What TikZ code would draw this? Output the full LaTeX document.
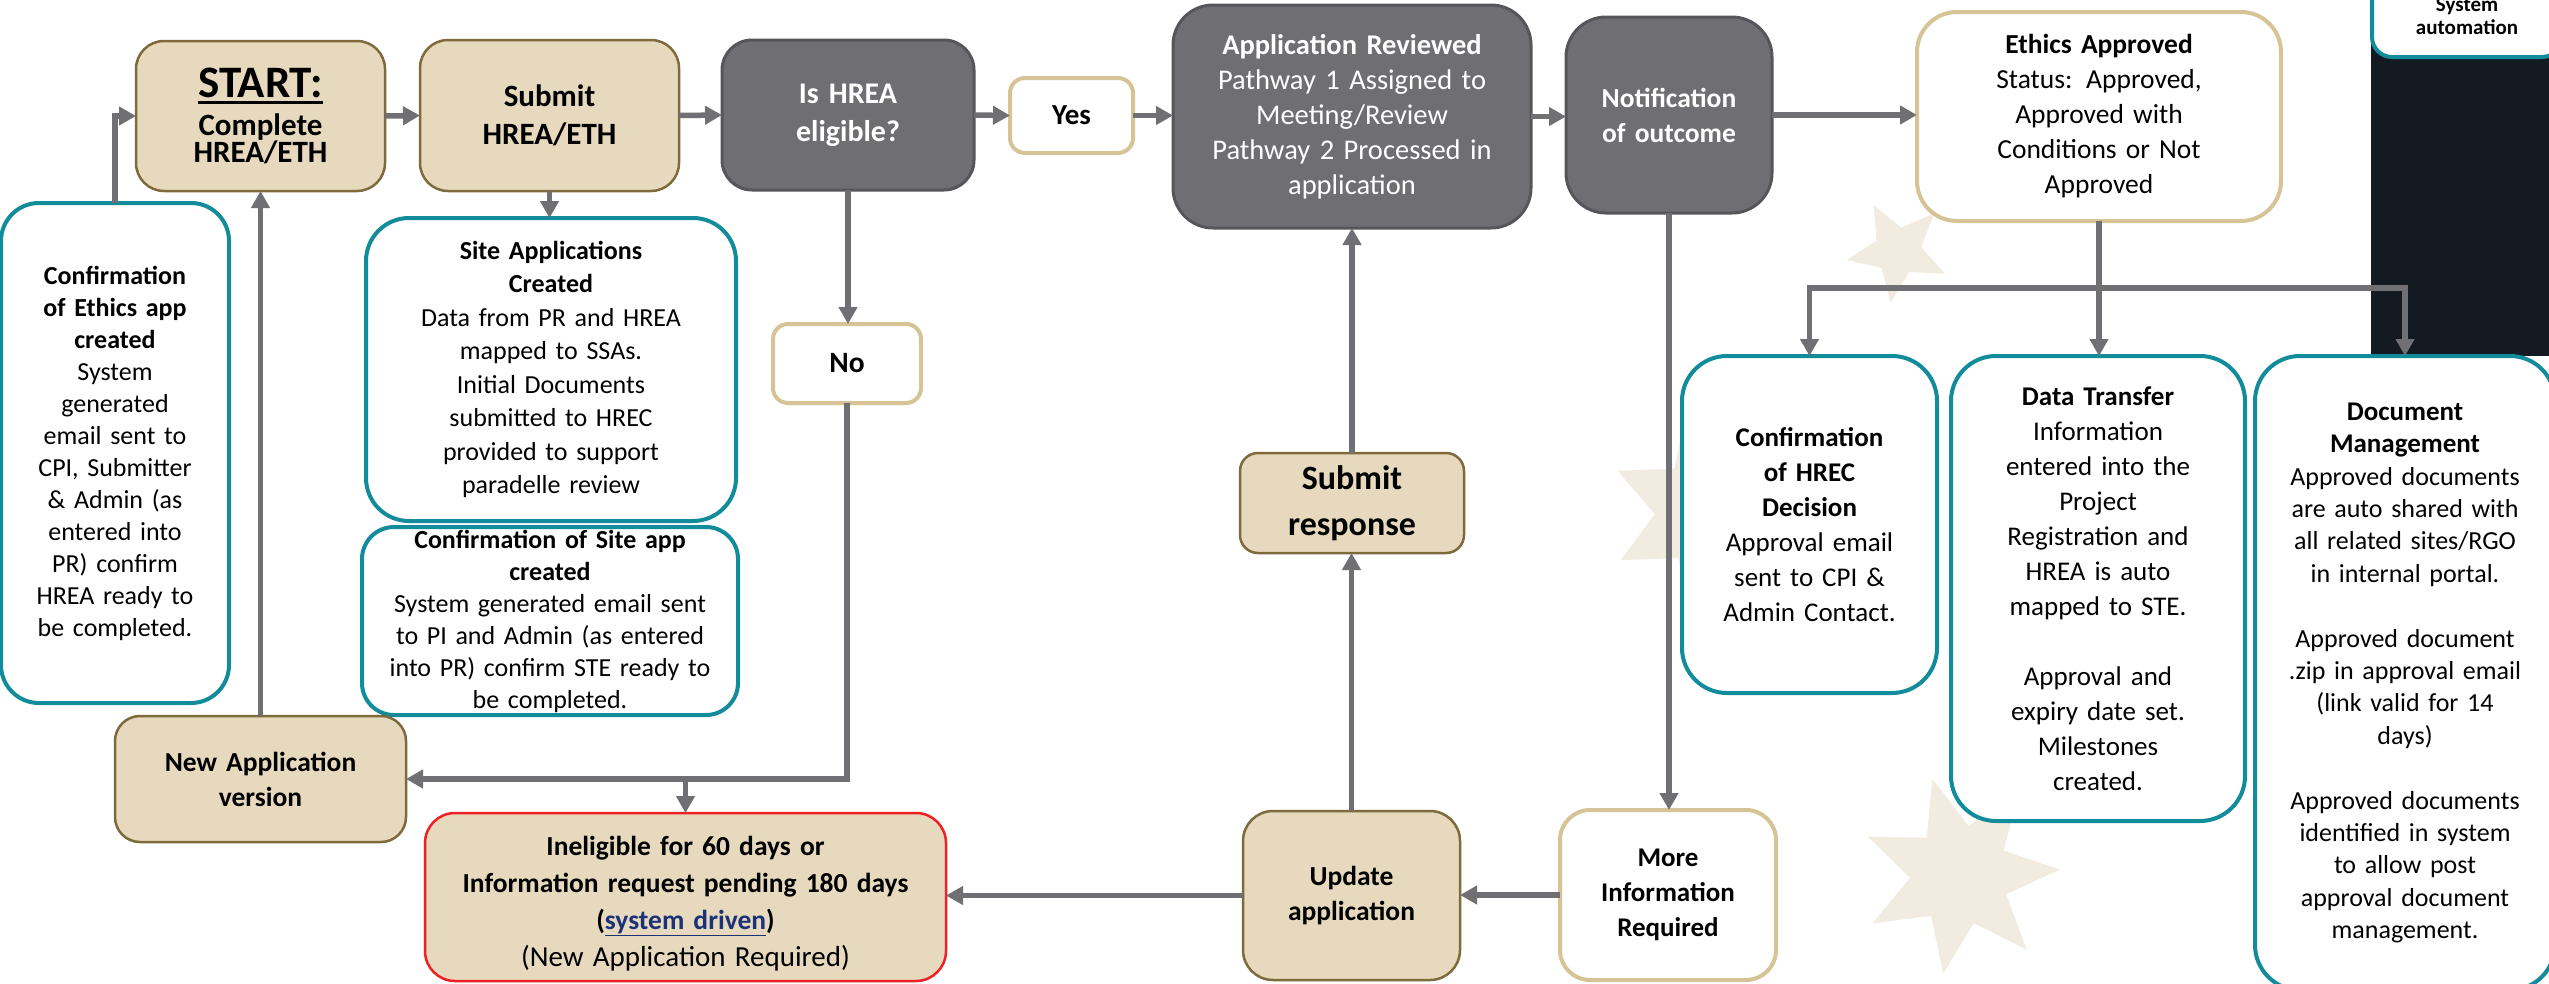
\documentclass[tikz,border=0pt]{standalone}
\usepackage{fontspec}
\setmainfont{Carlito}
\usetikzlibrary{arrows.meta,shapes.geometric}
\definecolor{beige}{RGB}{230,217,189}
\definecolor{brownb}{RGB}{127,106,60}
\definecolor{darkg}{RGB}{111,110,115}
\definecolor{darkgb}{RGB}{85,85,90}
\definecolor{tealb}{RGB}{18,140,155}
\definecolor{tanb}{RGB}{214,196,150}
\definecolor{arrowg}{RGB}{112,111,116}
\definecolor{starc}{RGB}{242,235,223}
\definecolor{panelc}{RGB}{19,26,33}
\definecolor{redb}{RGB}{238,32,36}
\definecolor{linkb}{RGB}{28,50,120}
\newcommand{\myfs}[2]{\fontsize{#1pt}{#2pt}\selectfont}
\newcommand{\thickul}[1]{\setbox0\hbox{#1}\leavevmode\vtop{\copy0\kern3pt\hrule height 3.5pt width \wd0}}
\hyphenpenalty=10000
\exhyphenpenalty=10000
\begin{document}
\begin{tikzpicture}[x=1pt,y=-1pt,
  boxbase/.style={align=center, inner sep=0pt, outer sep=0pt},
  beigebox/.style={boxbase, draw=brownb, line width=2.5pt, fill=beige, rounded corners=#1},
  beigebox/.default=28pt,
  darkbox/.style={boxbase, draw=darkgb, line width=3pt, fill=darkg, text=white, rounded corners=#1},
  darkbox/.default=35pt,
  tanbox/.style={boxbase, draw=tanb, line width=4pt, fill=white, rounded corners=#1},
  tanbox/.default=35pt,
  tealbox/.style={boxbase, draw=tealb, line width=4pt, fill=white, rounded corners=#1},
  tealbox/.default=42pt,
  redbox/.style={boxbase, draw=redb, line width=2.5pt, fill=beige, rounded corners=#1},
  redbox/.default=30pt,
  bgstar/.style={star, fill=starc, draw=none, inner sep=0pt},
  arr/.style={draw=arrowg, line width=5.5pt, -{Triangle[length=17pt,width=18pt]}},
  plain/.style={draw=arrowg, line width=5.5pt}
]
\useasboundingbox (0,0) rectangle (2549,983);
\clip (0,0) rectangle (2549,983);
\fill[white] (0,0) rectangle (2549,983);

% background stars
\node[bgstar, star points=7, star point ratio=2, minimum size=200pt, shape border rotate=16] (starA) at (1960,875) {};
\node[bgstar, star points=5, star point ratio=2.2, minimum size=104pt, shape border rotate=28] (starB) at (1898,251) {};
\node[bgstar, star points=7, star point ratio=1.8, minimum size=206pt, shape border rotate=15] (starC) at (1712,512) {};

% dark panel on the right
\fill[panelc] (2371,0) rectangle (2549,356);

% top row
\node[beigebox, minimum width=249pt, minimum height=150pt, text width=245pt] (start) at (260.5,116)
  {{\myfs{45}{52}\bfseries\thickul{START:}\par}\myfs{31}{38}\bfseries Complete\\HREA/ETH};
\node[beigebox, minimum width=259pt, minimum height=151pt, text width=255pt, font={\myfs{31}{38}\bfseries}] (submit) at (549.5,115.5)
  {Submit\\HREA/ETH};
\node[darkbox=30pt, minimum width=252pt, minimum height=150pt, text width=248pt, font={\myfs{30}{38}\bfseries}] (isHrea) at (848,115)
  {Is HREA\\eligible?};
\node[tanbox=15pt, minimum width=123pt, minimum height=75pt, text width=119pt, font={\myfs{29}{35}\bfseries}] (yes) at (1071.5,115.5)
  {Yes};
\node[darkbox=40pt, minimum width=358pt, minimum height=223pt, text width=354pt, font={\myfs{28.5}{35}}] (review) at (1352,116.5)
  {{\bfseries Application Reviewed}\\Pathway 1 Assigned to\\Meeting/Review\\Pathway 2 Processed in\\application};
\node[darkbox=40pt, minimum width=206pt, minimum height=196pt, text width=202pt, font={\myfs{27.5}{35}\bfseries}] (notif) at (1669,115)
  {Notification\\of outcome};
\node[tanbox=40pt, minimum width=364pt, minimum height=209pt, text width=360pt, font={\myfs{27.5}{35}}] (ethics) at (2099,116.5)
  {{\bfseries Ethics Approved}\\Status: Approved,\\Approved with\\Conditions or Not\\Approved};

% system automation legend
\node[tealbox=20pt, minimum width=190pt, minimum height=82pt, text width=186pt, font={\myfs{21}{23}\bfseries}] (sys) at (2467,16)
  {System\\automation};

% left column
\node[tealbox=38pt, minimum width=228pt, minimum height=500pt, text width=224pt, font={\myfs{26}{32}}] (confEth) at (115,453)
  {{\bfseries Confirmation\\of Ethics app\\created}\\System\\generated\\email sent to\\CPI, Submitter\\\& Admin (as\\entered into\\PR) confirm\\HREA ready to\\be completed.};
\node[tealbox=43pt, minimum width=370pt, minimum height=303pt, text width=366pt, font={\myfs{26}{33.5}}] (siteApps) at (551,369.5)
  {{\bfseries Site Applications\\Created}\\Data from PR and HREA\\mapped to SSAs.\\Initial Documents\\submitted to HREC\\provided to support\\paradelle review};
\node[tealbox=32pt, minimum width=376pt, minimum height=188pt, text width=372pt, font={\myfs{26}{32}}] (confSite) at (550,621)
  {{\bfseries Confirmation of Site app\\created}\\System generated email sent\\to PI and Admin (as entered\\into PR) confirm STE ready to\\be completed.};
\node[tanbox=15pt, minimum width=148pt, minimum height=79pt, text width=144pt, font={\myfs{29.5}{35}\bfseries}] (no) at (847,363.5)
  {No};
\node[beigebox=25pt, minimum width=291pt, minimum height=126pt, text width=287pt, font={\myfs{27.5}{35}\bfseries}] (newApp) at (260.5,779)
  {New Application\\version};
\node[redbox=30pt, minimum width=521pt, minimum height=168pt, text width=517pt, font={\myfs{27.5}{37}}] (inelig) at (685.5,897)
  {{\bfseries\rule{0pt}{32pt}Ineligible for 60 days or\\Information request pending 180 days\\({\color{linkb}\underline{system driven}})}\\{\myfs{29}{37}(New Application Required)}};

% middle
\node[beigebox=18pt, minimum width=224pt, minimum height=100pt, text width=220pt, font={\myfs{34}{46}\bfseries}] (submitResp) at (1352,503)
  {Submit\\response};
\node[beigebox=30pt, minimum width=217pt, minimum height=169pt, text width=213pt, font={\myfs{27.5}{35}\bfseries}] (update) at (1351.5,895.5)
  {Update\\application};
\node[tanbox=30pt, minimum width=216pt, minimum height=170pt, text width=212pt, font={\myfs{27}{35}\bfseries}] (moreInfo) at (1668,895)
  {More\\Information\\Required};

% approval outputs
\node[tealbox=45pt, minimum width=255pt, minimum height=337pt, text width=251pt, font={\myfs{27}{35}}] (hrec) at (1809.5,524.5)
  {{\bfseries Confirmation\\of HREC\\Decision}\\Approval email\\sent to CPI \&\\Admin Contact.};
\node[tealbox=45pt, minimum width=294pt, minimum height=465pt, text width=290pt, font={\myfs{27}{35}}] (data) at (2098,588.5)
  {{\bfseries Data Transfer}\\Information\\entered into the\\Project\\Registration and\\HREA is auto\\mapped to STE.\\[35pt]Approval and\\expiry date set.\\Milestones\\created.};
\node[tealbox=45pt, minimum width=300pt, minimum height=634pt, text width=296pt, font={\myfs{26}{32.4}}] (doc) at (2405,673)
  {{\bfseries\myfs{27}{32.4}Document\\Management}\\Approved documents\\are auto shared with\\all related sites/RGO\\in internal portal.\\[32.4pt]Approved document\\.zip in approval email\\(link valid for 14\\days)\\[32.4pt]Approved documents\\identified in system\\to allow post\\approval document\\management.};

% connectors
\draw[arr] (confEth.north) |- (start.west);
\draw[arr] (start.east) -- (submit.west);
\draw[arr] (submit.east) -- (isHrea.west);
\draw[arr] (isHrea.east) -- (yes.west);
\draw[arr] (yes.east) -- (yes.east -| review.west);
\draw[arr] (review.east) -- (review.east -| notif.west);
\draw[arr] (notif.east) -- (notif.east -| ethics.west);
\draw[arr] (submit.south) -- (submit.south |- siteApps.north);
\draw[arr] (isHrea.south) -- (isHrea.south |- no.north);
\draw[arr] (no.south) |- (newApp.east);
\coordinate (jn) at (inelig.north |- newApp.east);
\draw[arr] (jn) -- (inelig.north);
\draw[arr] (newApp.north) -- (newApp.north |- start.south);
\draw[arr] (notif.south) -- (notif.south |- moreInfo.north);
\draw[arr] (moreInfo.west) -- (moreInfo.west -| update.east);
\draw[arr] (update.west) -- (update.west -| inelig.east);
\draw[arr] (update.north) -- (update.north |- submitResp.south);
\draw[arr] (submitResp.north) -- (submitResp.north |- review.south);
\path (ethics.south) ++(0,67) coordinate (br);
\draw[arr] (ethics.south) -- (ethics.south |- data.north);
\draw[arr] (br) -| (hrec.north);
\draw[arr] (br) -| (doc.north);
\end{tikzpicture}
\end{document}
